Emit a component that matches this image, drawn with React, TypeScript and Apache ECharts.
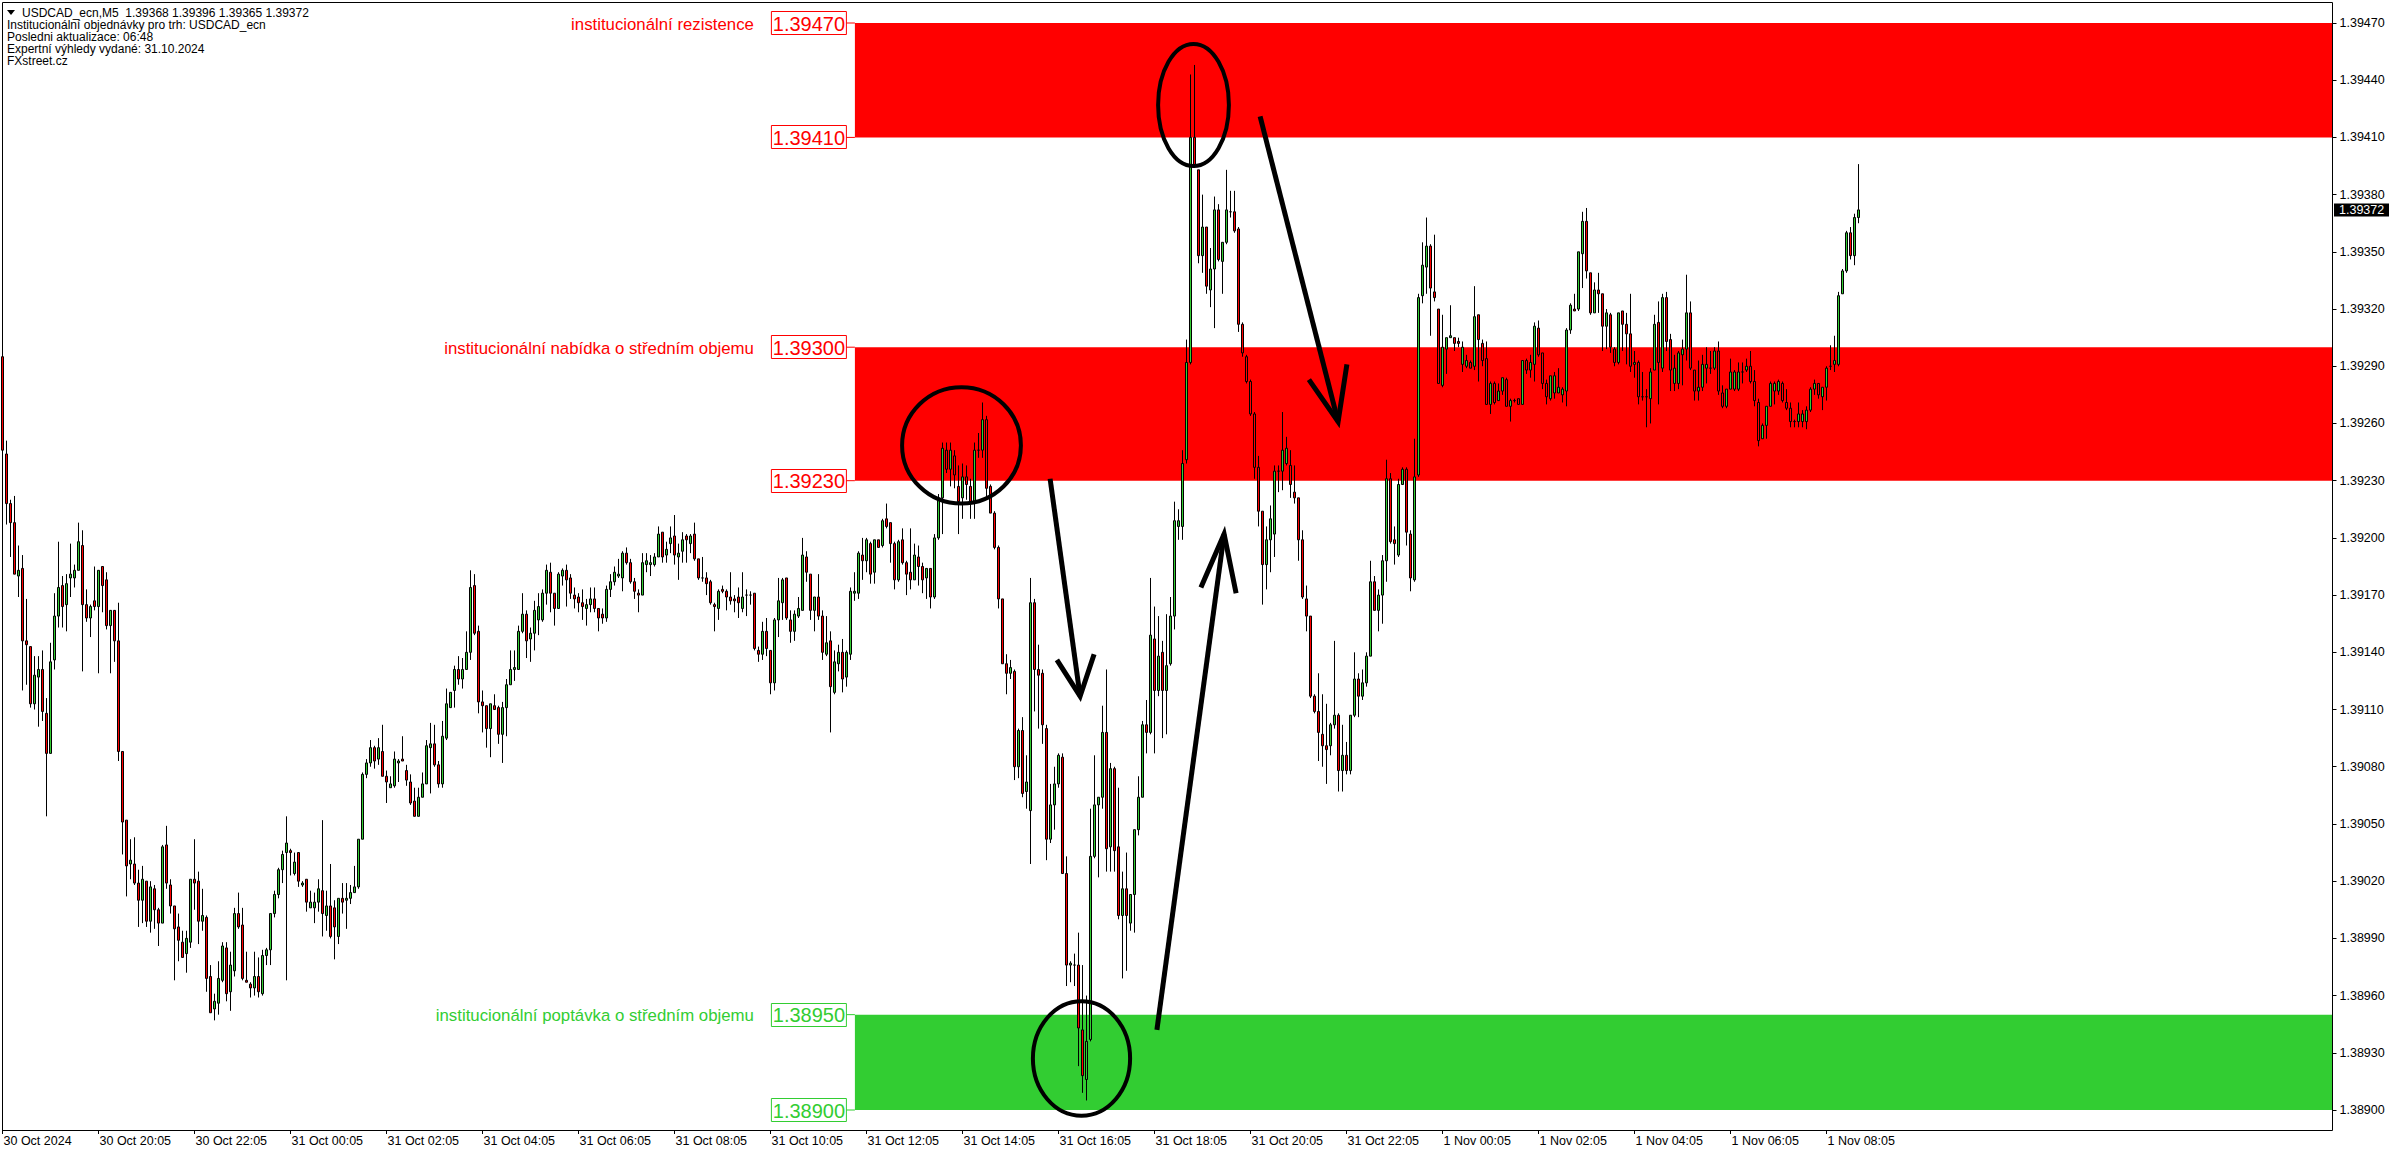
import React, { useEffect, useRef } from "react";
import * as echarts from "echarts";

// ---------- data (candle values are points = 0.00001 above PRICE_BASE) ----------
const PRICE_BASE = 1.389;

// [open, close, low, high]  30 Oct 18:05 ... 31 Oct 03:45
const candlesOct30: number[][] = [
  [395,346,344,419],[344,318,307,351],[318,308,290,320],[308,281,281,322],[280,283,269,296],
  [284,246,220,291],[246,244,223,268],[243,213,211,243],[213,228,210,238],[227,231,201,238],
  [231,209,204,241],[208,187,154,216],[187,235,187,245],[236,259,231,271],[259,274,253,298],
  [275,264,253,280],[265,276,251,281],[279,281,269,297],[279,283,274,286],[283,298,283,308],
  [296,265,230,304],[265,258,256,273],[258,264,248,265],[267,264,262,285],[264,283,229,283],
  [285,275,261,285],[278,254,252,282],[254,262,229,262],[262,246,235,262],[246,188,183,266],
  [188,151,134,188],[152,128,112,152],[129,131,121,142],[129,119,118,143],[119,110,96,126],
  [110,121,98,128],[120,99,96,120],[99,117,93,120],[116,105,95,118],[105,98,86,106],
  [98,138,98,139],[139,119,116,149],[118,107,103,121],[107,95,68,107],[96,89,78,103],
  [88,80,80,94],[82,90,72,94],[88,121,85,121],[121,119,105,142],[120,99,87,125],
  [99,102,94,116],[101,69,62,102],[70,51,51,76],[53,57,47,61],[56,69,50,78],
  [68,86,67,88],[85,61,57,88],[62,76,52,83],[73,103,70,106],[103,96,95,114],
  [97,69,68,106],[68,67,67,83],[66,64,59,67],[64,70,60,83],[70,62,59,80],
  [61,81,60,84],[81,84,76,85],[84,103,76,103],[103,113,101,115],[113,126,111,127],
  [126,134,119,136],[135,140,68,154],[136,135,123,137],[124,130,123,135],[135,120,117,135],
  [118,119,117,120],[121,109,104,121],[106,109,106,115],[106,109,98,114],[109,116,104,121],
  [115,103,91,152],[102,107,94,115],[107,91,90,129],[106,96,79,110],[91,111,87,111],
  [111,109,103,119],[110,111,95,119],[111,114,108,118],[114,117,114,128],[117,142,116,142],
  [142,176,142,177],[176,182,174,184],[182,190,180,194],[190,183,179,191],[184,190,181,195],
  [188,175,175,202],[175,172,161,178],[169,171,169,175],[170,184,169,188],[182,183,172,184],
  [184,183,183,196],[178,173,170,181],[172,161,160,176],[162,154,154,169],[154,164,154,169],
  [164,171,164,177],[171,191,171,194],[190,192,166,203],[192,181,180,202],[181,171,169,183],
  [171,196,169,204],[195,213,194,221],[211,219,211,219],[220,231,211,233],[231,226,223,238],
  [226,231,221,237],[231,240,231,251],
];

const candlesOct31Morning: number[][] = [
  [240,274,236,283],[275,250,249,281],[251,214,208,254],[214,212,198,220],[212,200,190,212],
  [200,213,185,213],[212,210,210,218],[211,197,192,212],[197,211,182,214],[211,223,196,226],
  [223,231,223,241],[231,232,225,241],[231,251,231,254],[251,260,250,271],[260,246,237,262],
  [247,250,235,253],[250,262,241,267],[257,264,249,271],[257,271,256,273],[271,283,265,286],
  [282,271,261,287],[271,263,254,271],[263,281,263,282],[280,283,275,284],[283,278,264,286],
  [279,271,268,281],[270,268,263,274],[269,266,261,271],[266,264,257,273],[263,265,254,268],
  [265,268,261,274],[268,263,261,274],[263,258,251,263],[260,258,255,263],[258,273,256,275],
  [273,277,269,281],[277,282,275,285],[280,281,279,289],[279,292,272,293],[292,287,286,295],
  [287,277,276,289],[277,272,268,279],[271,270,261,273],[270,287,270,292],[286,288,282,292],
  [286,287,280,291],[286,290,285,292],[290,302,290,306],[303,290,287,303],[291,294,287,298],
  [297,300,292,306],[301,291,286,312],[290,292,278,297],[293,299,287,303],[301,299,287,302],
  [297,301,292,302],[302,289,288,308],[289,279,278,289],[279,279,277,290],[279,276,270,282],
  [277,266,265,278],[265,264,251,266],[263,272,257,273],[273,272,271,275],[272,269,262,273],
  [269,267,265,282],[268,267,261,270],[269,266,258,274],[263,269,261,282],[270,270,259,273],
  [270,270,265,272],[271,242,241,271],[241,239,235,243],[239,251,236,256],[251,242,238,258],
  [241,224,218,241],[224,257,220,258],[257,267,248,279],[266,278,257,279],[279,258,257,279],
  [257,251,245,262],[251,260,246,262],[259,263,258,269],[262,291,262,300],[290,282,277,293],
  [281,262,257,281],[262,269,251,269],[269,259,257,281],[259,240,236,262],[239,245,238,259],
  [246,222,198,251],[219,235,218,241],[234,240,230,244],[240,226,219,247],[227,240,222,241],
  [239,272,236,274],[271,272,267,282],[271,292,268,293],[291,288,278,300],[288,299,282,300],
  [297,281,276,298],[282,299,276,299],[299,295,295,299],[296,309,295,310],[310,306,305,318],
  [308,297,287,308],[297,278,273,298],[278,298,277,299],[299,287,286,305],[287,281,270,288],
  [282,278,273,305],[278,291,278,297],[290,285,275,296],[285,278,271,287],[279,284,268,284],
  [284,269,263,284],[269,300,268,302],[300,321,299,323],
];

const candlesOct31Afternoon: number[][] = [
  [321,347,302,350],[346,336,334,350],[336,346,327,350],[343,333,326,346],[327,319,302,338],
  [321,332,310,339],[332,328,320,338],[327,319,310,331],[319,346,310,350],[346,346,342,355],
  [346,362,342,371],[362,326,321,364],[327,313,313,328],[313,295,294,314],[295,268,263,296],
  [268,234,234,268],[234,229,218,239],[229,232,226,236],[230,180,173,231],[180,199,174,200],
  [199,166,164,206],[167,172,158,186],[157,266,129,279],[266,231,209,268],[231,228,200,244],
  [229,202,192,231],[200,142,131,202],[142,160,140,171],[160,171,147,180],[171,186,169,187],
  [185,124,124,187],[124,76,65,133],[76,77,67,78],[76,76,65,82],[76,43,23,93],
  [42,18,9,76],[16,36,5,60],[37,133,36,158],[133,160,132,186],[160,164,122,164],
  [164,198,158,212],[198,137,125,231],[138,179,125,182],[179,136,125,180],[138,102,100,169],
  [102,116,69,125],[116,102,73,135],[98,113,94,113],[113,147,93,147],[147,164,144,175],
  [164,202,164,204],[202,198,187,215],[198,249,197,279],[247,220,187,264],[220,238,217,259],
  [240,220,195,246],[220,233,197,260],[234,259,233,269],[259,309,252,319],[306,309,299,315],
  [306,339,299,346],[341,392,339,404],[392,510,391,543],[510,495,494,548],[493,448,444,493],
  [448,463,439,480],[463,432,428,463],[430,441,421,452],[441,472,410,479],[472,446,445,475],
  [445,455,428,455],[455,472,454,493],[471,471,468,482],[471,461,460,482],[462,412,408,463],
  [412,397,395,413],[395,382,381,396],[382,365,364,383],[365,337,331,366],[337,314,306,343],
  [314,286,265,314],[286,299,273,306],[299,310,282,317],[302,335,290,338],[335,335,324,338],
  [335,346,325,366],[339,347,338,353],[338,328,321,346],[324,321,318,338],[321,299,288,321],
  [299,269,268,304],[268,259,251,275],[259,217,216,259],[217,209,208,218],[209,198,183,229],
  [197,191,180,218],[191,189,171,213],[191,202,186,203],[202,207,200,246],[207,178,167,208],
  [178,186,167,202],[186,178,176,193],[178,207,176,207],[207,226,206,240],[226,217,206,229],
  [217,224,215,231],[224,238,222,240],[238,277,238,288],[277,262,262,280],[262,270,251,273],
  [270,288,255,291],[288,331,277,341],[331,298,297,334],[299,297,286,306],[291,328,290,331],
  [328,336,328,337],[336,303,296,337],
];

const candlesNov1: number[][] = [
  [302,279,272,304],[278,332,277,352],[333,426,332,428],[427,443,423,455],[442,453,428,468],
  [453,431,406,454],[429,426,424,459],[420,381,381,420],[380,400,379,417],[399,405,386,405],
  [405,406,405,422],[405,402,398,405],[403,402,400,405],[391,400,387,403],[390,393,389,396],
  [392,389,389,393],[390,416,388,432],[417,404,382,417],[402,393,390,404],[394,370,370,403],
  [370,381,365,382],[381,371,370,382],[372,377,372,381],[377,384,375,384],[383,369,369,384],
  [369,372,361,373],[372,372,371,373],[373,370,370,373],[370,393,370,393],[393,388,386,394],
  [388,392,384,396],[391,411,382,413],[410,396,395,414],[397,381,378,397],[381,374,370,383],
  [373,385,372,385],[376,385,373,387],[376,379,376,389],[375,378,371,379],[377,409,369,410],
  [409,422,407,423],[420,419,419,428],[420,450,419,450],[449,466,431,471],[466,440,436,473],
  [439,418,417,439],[418,430,418,434],[430,428,418,439],[428,411,398,428],[411,418,399,420],
  [417,400,397,418],[399,392,390,400],[392,418,391,418],[419,412,398,419],[412,407,391,418],
  [407,390,387,428],[391,392,384,398],[392,374,370,393],[374,374,372,387],[374,374,358,378],
  [373,387,360,389],[388,412,388,417],[413,392,370,424],[389,426,387,428],[426,403,398,429],
  [404,388,377,407],[381,389,377,396],[381,397,378,398],[396,399,380,404],[399,418,393,438],
  [418,389,388,424],[388,377,372,388],[377,379,372,393],[379,391,377,396],[389,391,381,400],
  [389,389,386,398],[389,398,388,400],[398,377,375,403],[376,369,368,380],[369,378,368,378],
  [378,387,378,394],[378,387,377,388],[378,387,377,392],[387,387,381,392],[388,390,387,394],
  [390,382,381,398],[382,372,369,388],[371,351,348,373],[352,359,352,360],[359,369,352,369],
  [369,381,369,382],[377,381,370,382],[377,382,375,383],[381,372,371,382],[371,368,367,378],
  [368,361,358,371],[361,361,358,362],[361,365,358,371],[361,365,358,367],[361,367,357,369],
  [367,378,366,379],[378,381,375,383],[381,375,373,381],[374,379,367,379],[379,389,372,390],
  [390,390,388,401],[391,393,387,406],[391,427,390,429],[428,440,428,441],[440,460,439,461],
  [460,448,446,463],[448,468,443,470],[468,472,465,496],
];

// time axis
const FIRST_BAR = Date.UTC(2024, 9, 30, 18, 5);
const BAR_MINUTES = 5;
const SLOT_COUNT = 583; // bars + empty right margin of the chart
const LABEL_EVERY = 24;
const MONTHS = ["Jan","Feb","Mar","Apr","May","Jun","Jul","Aug","Sep","Oct","Nov","Dec"];

// price axis
const Y_MIN = 1.389;
const Y_MAX = 1.3947;
const Y_STEP = 0.0003;

// institutional zones [top, bottom]
const resistanceZone = [1.3947, 1.3941];
const supplyZone = [1.393, 1.3923];
const demandZone = [1.3895, 1.389];
const zoneTitles = [
  "institucionální rezistence",
  "institucionální nabídka o středním objemu",
  "institucionální poptávka o středním objemu",
];
const ZONE_START_BAR = 213.1;

const headerLines = [
  "Institucionální objednávky pro trh: USDCAD_ecn",
  "Posledni aktualizace: 06:48",
  "Expertní výhledy vydané: 31.10.2024",
  "FXstreet.cz",
];
const SYMBOL = "USDCAD_ecn,M5";

// hand-drawn annotations: [barIndex, points]
const ellipses: number[][] = [
  [224.9, 378.6, 254.6, 317.8],
  [288.9, 559, 306.6, 495],
  [257.6, 57.2, 281.9, -3.2],
];
const arrowShafts: number[][][] = [
  [[261.9, 331.4], [269.4, 216.6]],
  [[288.6, 42.5], [305.4, 301.5]],
  [[314.4, 521.2], [333.9, 360.8]],
];
const arrowHeads: number[][][] = [
  [[263.6, 235.5], [269.4, 216.6], [272.9, 239.2]],
  [[299.6, 273.7], [305.4, 301.5], [308.4, 270.6]],
  [[326.6, 383.3], [333.9, 360.8], [336.1, 390.7]],
];

// ---------- styling ----------
const W = 2396;
const H = 1154;
const FONT = "Liberation Sans";
const BULL = "#32CD32";
const BEAR = "#FF0000";
const RED = "#FF0000";
const GREEN = "#32CD32";

const toPrice = (p: number) => +(PRICE_BASE + p / 100000).toFixed(5);

function slotLabel(i: number): string {
  const d = new Date(FIRST_BAR + i * BAR_MINUTES * 60000);
  const day = d.getUTCDate();
  const mon = MONTHS[d.getUTCMonth()];
  if (i === 0) return `${day} ${mon} ${d.getUTCFullYear()}`;
  const hh = String(d.getUTCHours()).padStart(2, "0");
  const mm = String(d.getUTCMinutes()).padStart(2, "0");
  return `${day} ${mon} ${hh}:${mm}`;
}

export default function App() {
  const ref = useRef<HTMLDivElement>(null);

  useEffect(() => {
    const el = ref.current;
    if (!el) return;
    const chart = echarts.init(el, null, { renderer: "svg", width: W, height: H });

    const candles = [...candlesOct30, ...candlesOct31Morning, ...candlesOct31Afternoon, ...candlesNov1];
    const seriesData = candles.map(([o, c, l, h]) => [toPrice(o), toPrice(c), toPrice(l), toPrice(h)]);
    const categories = Array.from({ length: SLOT_COUNT }, (_, i) => slotLabel(i));
    const showEvery = (i: number) => i % LABEL_EVERY === 0 && i < candles.length;

    chart.setOption({
      animation: false,
      backgroundColor: "#ffffff",
      grid: { left: 0.5, right: 63.5, top: 23, bottom: 44, containLabel: false },
      xAxis: {
        type: "category",
        data: categories,
        boundaryGap: true,
        offset: 20,
        axisLine: { show: false },
        axisTick: { show: true, alignWithLabel: true, interval: showEvery, length: 4, lineStyle: { color: "#000", width: 1 } },
        axisLabel: { interval: showEvery, align: "left", margin: 4, color: "#000", fontFamily: FONT, fontSize: 12.5, padding: [0, 0, 0, 1] },
        splitLine: { show: false },
      },
      yAxis: {
        type: "value",
        position: "right",
        min: Y_MIN,
        max: Y_MAX,
        interval: Y_STEP,
        axisLine: { show: false },
        axisTick: { show: true, length: 4, lineStyle: { color: "#000", width: 1 } },
        axisLabel: { margin: 7, color: "#000", fontFamily: FONT, fontSize: 12.5, formatter: (v: number) => v.toFixed(5) },
        splitLine: { show: false },
      },
      series: [
        {
          type: "candlestick",
          data: seriesData,
          barWidth: 2,
          z: 2,
          itemStyle: { color: BULL, color0: BEAR, borderColor: "#000", borderColor0: "#000", borderWidth: 1 },
        },
      ],
    });

    const conv = (i: number, price: number): number[] => {
      const i0 = Math.floor(i);
      const f = i - i0;
      const a = chart.convertToPixel({ xAxisIndex: 0, yAxisIndex: 0 }, [i0, price]) as number[];
      const b = chart.convertToPixel({ xAxisIndex: 0, yAxisIndex: 0 }, [i0 + 1, price]) as number[];
      return [a[0] + (b[0] - a[0]) * f, a[1]];
    };
    const pt = (i: number, pts: number) => conv(i, toPrice(pts));

    const gfx: any[] = [];
    const gridRight = W - 63.5;
    const bandLeft = conv(ZONE_START_BAR, Y_MAX)[0];

    // frame
    gfx.push({ type: "rect", z: 1, shape: { x: 2.5, y: 2.5, width: gridRight - 2.5, height: 1128 }, style: { fill: "none", stroke: "#000", lineWidth: 1 } });

    const zones = [
      { z: resistanceZone, color: RED, title: zoneTitles[0] },
      { z: supplyZone, color: RED, title: zoneTitles[1] },
      { z: demandZone, color: GREEN, title: zoneTitles[2] },
    ];
    zones.forEach(({ z, color, title }) => {
      const yTop = conv(0, z[0])[1];
      const yBot = conv(0, z[1])[1];
      gfx.push({ type: "rect", z: 0, shape: { x: bandLeft, y: yTop, width: gridRight - bandLeft, height: yBot - yTop }, style: { fill: color } });
      [z[0], z[1]].forEach((lvl) => {
        const y = conv(0, lvl)[1];
        const boxR = bandLeft - 9;
        const boxL = bandLeft - 84;
        gfx.push({ type: "line", z: 5, shape: { x1: boxR, y1: y, x2: bandLeft, y2: y }, style: { stroke: color, lineWidth: 1 } });
        gfx.push({ type: "rect", z: 5, shape: { x: boxL + 0.5, y: Math.round(y) - 11.5, width: 75, height: 23 }, style: { fill: "#fff", stroke: color, lineWidth: 1 } });
        gfx.push({ type: "text", z: 6, x: (boxL + boxR) / 2 + 0.5, y: y + 0.5, style: { text: lvl.toFixed(5), fill: color, fontFamily: FONT, fontSize: 20, align: "center", verticalAlign: "middle", textAlign: "center", textVerticalAlign: "middle" } });
      });
      const yt = conv(0, z[0])[1];
      gfx.push({ type: "text", z: 6, x: bandLeft - 101, y: yt + 1, style: { text: title, fill: color, fontFamily: FONT, fontSize: 16.8, align: "right", verticalAlign: "middle", textAlign: "right", textVerticalAlign: "middle" } });
    });

    // hand-drawn ellipses
    ellipses.forEach(([i1, p1, i2, p2]) => {
      const a = pt(i1, p1);
      const b = pt(i2, p2);
      gfx.push({ type: "ellipse", z: 10, shape: { cx: (a[0] + b[0]) / 2, cy: (a[1] + b[1]) / 2, rx: Math.abs(b[0] - a[0]) / 2, ry: Math.abs(b[1] - a[1]) / 2 }, style: { fill: "none", stroke: "#000", lineWidth: 4 } });
    });
    // arrows
    arrowShafts.forEach((seg) => {
      gfx.push({ type: "polyline", z: 10, shape: { points: seg.map(([i, p]) => pt(i, p)) }, style: { stroke: "#000", lineWidth: 5, fill: "none" } });
    });
    arrowHeads.forEach((seg) => {
      gfx.push({ type: "polyline", z: 10, shape: { points: seg.map(([i, p]) => pt(i, p)) }, style: { stroke: "#000", lineWidth: 5, fill: "none", lineJoin: "miter" } });
    });

    // header
    const last = candles[candles.length - 1];
    const ohlc = [last[0], last[3], last[2], last[1]].map((v) => toPrice(v).toFixed(5)).join(" ");
    gfx.push({ type: "polygon", z: 12, shape: { points: [[7, 10], [15, 10], [11, 15]] }, style: { fill: "#000" } });
    gfx.push({ type: "text", z: 12, x: 22, y: 12.5, style: { text: `${SYMBOL}  ${ohlc}`, fill: "#000", fontFamily: FONT, fontSize: 12, verticalAlign: "middle", textVerticalAlign: "middle" } });
    headerLines.forEach((t, k) => {
      gfx.push({ type: "text", z: 12, x: 7, y: 24.7 + k * 12.2, style: { text: t, fill: "#000", fontFamily: FONT, fontSize: 12, verticalAlign: "middle", textVerticalAlign: "middle" } });
    });

    // current price tag
    const lastPrice = toPrice(last[1]);
    const ly = conv(0, lastPrice)[1];
    gfx.push({ type: "rect", z: 12, shape: { x: gridRight + 1.5, y: ly - 6.5, width: 55, height: 13 }, style: { fill: "#000" } });
    gfx.push({ type: "text", z: 13, x: gridRight + 6.5, y: ly + 0.5, style: { text: lastPrice.toFixed(5), fill: "#fff", fontFamily: FONT, fontSize: 12.5, verticalAlign: "middle", textVerticalAlign: "middle" } });

    chart.setOption({ graphic: gfx });

    return () => chart.dispose();
  }, []);

  return <div ref={ref} style={{ position: "fixed", left: 0, top: 0, width: W, height: H, background: "#fff" }} />;
}
